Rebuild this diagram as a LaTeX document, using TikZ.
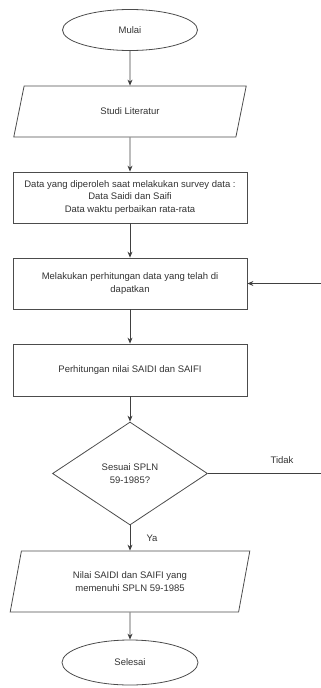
\documentclass[tikz,border=0pt]{standalone}
\usepackage{fontspec}
\setmainfont{Liberation Sans}
\usetikzlibrary{shapes.geometric,arrows.meta}

\begin{document}
\begin{tikzpicture}[x=1pt,y=-1pt,>={Stealth[length=6pt,width=5pt]}]
\tikzstyle{every node}=[font=\fontsize{9.5}{12.5}\selectfont, text=black!80, inner sep=1pt, align=center]
\tikzstyle{term}=[draw=black!70, line width=.8pt, ellipse, minimum width=135pt, minimum height=41pt]
\tikzstyle{io}=[draw=black!70, line width=.8pt, trapezium, trapezium stretches=true, minimum width=234pt]
\tikzstyle{proc}=[draw=black!70, line width=.8pt, rectangle, minimum width=234pt, minimum height=52pt]
\tikzstyle{decision}=[draw=black!70, line width=.8pt, diamond, aspect=1.5, inner sep=0pt, minimum width=155pt, minimum height=103pt]
\tikzstyle{line}=[draw=black!75, line width=.8pt]
\useasboundingbox (0,0) rectangle (321,688);
\draw (130,30) node (start) [term] {Mulai};
\draw (130,111.5) node (lit) [io, minimum height=51pt, trapezium left angle=71.6, trapezium right angle=108.4] {Studi Literatur};
\draw (130,197.5) node (data) [proc, minimum height=51pt] {Data yang diperoleh saat melakukan survey data :\\Data Saidi dan Saifi\\Data waktu perbaikan rata-rata};
\draw (130,283.5) node (hitung) [proc, minimum height=51pt] {Melakukan perhitungan data yang telah di\\dapatkan};
\draw (130,370) node (saidi) [proc] {Perhitungan nilai SAIDI dan SAIFI};
\draw (130,473.5) node (cek) [decision] {Sesuai SPLN\\59-1985?};
\draw (130,581.5) node (hasil) [io, minimum width=240pt, minimum height=61pt, trapezium left angle=74.4, trapezium right angle=105.6] {Nilai SAIDI dan SAIFI yang\\memenuhi SPLN 59-1985};
\draw (130,662.5) node (stop) [term, minimum width=136pt, minimum height=45pt] {Selesai};
\node (tidak) at (282,460) {Tidak};
\node (ya) at (152,538) {Ya};
\draw [line,->] (start) -- (lit);
\draw [line,->] (lit) -- (data);
\draw [line,->] (data) -- (hitung);
\draw [line,->] (hitung) -- (saidi);
\draw [line,->] (saidi) -- (cek);
\draw [line,->] (cek) -- (hasil);
\draw [line,->] (hasil) -- (stop);
\draw [line,->] (cek.east) -- (330,473.5) |- (hitung.east);
\end{tikzpicture}
\end{document}
